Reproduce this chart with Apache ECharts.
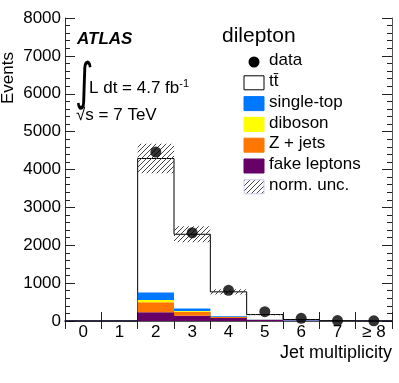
<!DOCTYPE html>
<html>
<head>
<meta charset="utf-8">
<title>Jet multiplicity</title>
<script src="https://cdn.jsdelivr.net/npm/echarts@6/dist/echarts.min.js"></script>
<style>
    html, body { margin: 0; padding: 0; background: #fff; }
    #chart { width: 399px; height: 383px; }
</style>
</head>
<body>
<div id="chart"></div>
<script>
    // bins of the jet multiplicity histogram
    const jetBins = ['0', '1', '2', '3', '4', '5', '6', '7', '≥ 8'];
    const dataCounts = ['-', '-', 4460, 2330, 810, 245, 70, 12, 5];
    // stack, bottom to top
    const fakeLeptons = [0, 0, 230, 140, 80, 25, 6, 1, 0];
    const zJets = [0, 0, 265, 105, 25, 8, 2, 1, 0];
    const diboson = [0, 0, 60, 20, 5, 2, 1, 0, 0];
    const singleTop = [0, 0, 200, 65, 20, 5, 1, 0, 0];
    const ttbar = [0, 0, 3535, 1960, 640, 130, 30, 6, 2];
    const normUnc = [0, 0, 390, 210, 70, 16, 4, 1, 0];
    const yTicks = [0, 1000, 2000, 3000, 4000, 5000, 6000, 7000, 8000];

    const FONT = '"Liberation Sans", Arial, sans-serif';
    const layers = [fakeLeptons, zJets, diboson, singleTop, ttbar];
    const layerColors = ['#660066', '#ff7700', '#ffff00', '#0077ff', '#ffffff'];

    function hatchCanvas() {
        const c = document.createElement('canvas');
        c.width = 5; c.height = 5;
        const g = c.getContext('2d');
        g.strokeStyle = '#444';
        g.lineWidth = 1;
        g.beginPath();
        g.moveTo(0, 5); g.lineTo(5, 0);
        g.moveTo(-1, 1); g.lineTo(1, -1);
        g.moveTo(4, 6); g.lineTo(6, 4);
        g.stroke();
        return c;
    }
    const hatch = {image: hatchCanvas(), repeat: 'repeat'};

    // cumulative stack
    const bases = [];
    let run = jetBins.map(() => 0);
    layers.forEach(function (l) {
        bases.push(run.slice());
        run = run.map((v, i) => v + l[i]);
    });
    const totals = run;

    function rectItem(fill) {
        return function (params, api) {
            const lo = api.value(1), hi = api.value(2);
            if (hi <= lo) return;
            const p0 = api.coord([api.value(0), lo]);
            const p1 = api.coord([api.value(0), hi]);
            const w = api.size([1, 0])[0];
            return {
                type: 'rect',
                shape: {x: p0[0] - w / 2, y: p1[1], width: w, height: p0[1] - p1[1]},
                style: {fill: fill}
            };
        };
    }

    const stackSeries = layers.map(function (l, k) {
        return {
            type: 'custom',
            name: 'layer' + k,
            z: k === 4 ? 2 : 4,
            renderItem: rectItem(layerColors[k]),
            encode: {x: 0, y: [1, 2]},
            data: jetBins.map((c, i) => [i, bases[k][i], bases[k][i] + l[i]]),
            silent: true
        };
    });

    const outlineSeries = {
        type: 'custom',
        z: 3,
        silent: true,
        renderItem: function (params, api) {
            const i = api.value(0);
            const cur = api.value(1), prev = api.value(2);
            const w = api.size([1, 0])[0];
            const pc = api.coord([i, cur]);
            const pp = api.coord([i, prev]);
            const p0 = api.coord([i, 0]);
            const pts = [[pc[0] - w / 2, pp[1]], [pc[0] - w / 2, pc[1]], [pc[0] + w / 2, pc[1]]];
            if (i === jetBins.length - 1) pts.push([pc[0] + w / 2, p0[1]]);
            return {type: 'polyline', shape: {points: pts}, style: {stroke: '#000', lineWidth: 1, fill: null}};
        },
        data: jetBins.map((c, i) => [i, totals[i], i === 0 ? 0 : totals[i - 1]])
    };

    const uncSeries = {
        type: 'custom',
        z: 5,
        silent: true,
        renderItem: rectItem(hatch),
        data: jetBins.map((c, i) => [i, totals[i] - normUnc[i], totals[i] + normUnc[i]])
    };

    const dataSeries = {
        type: 'scatter',
        z: 6,
        symbol: 'circle',
        symbolSize: 11,
        itemStyle: {color: '#000'},
        silent: true,
        data: dataCounts
    };

    const chart = echarts.init(document.getElementById('chart'));
    const legendRows = [
        {label: 'data', kind: 'dot'},
        {label: 'tt\u0304', kind: 'box', fill: '#fff', stroke: '#000'},
        {label: 'single-top', kind: 'box', fill: '#0077ff'},
        {label: 'diboson', kind: 'box', fill: '#ffff00'},
        {label: 'Z + jets', kind: 'box', fill: '#ff7700'},
        {label: 'fake leptons', kind: 'box', fill: '#660066'},
        {label: 'norm. unc.', kind: 'box', fill: hatch, stroke: '#ccccee'}
    ];
    const graphics = [
        {type: 'text', left: 77, top: 31, style: {text: 'ATLAS', font: 'italic bold 17px ' + FONT, fill: '#000'}},
        {type: 'text', x: 75, y: 60, scaleX: 0.7, style: {text: '\u222B', font: '51px "DejaVu Sans"', fill: '#000'}},
        {
            type: 'text', left: 89, top: 78,
            style: {
                text: 'L dt = 4.7 fb{s|-1}',
                font: '17px ' + FONT, fill: '#000',
                rich: {s: {fontSize: 11, fontFamily: FONT, verticalAlign: 'top', padding: [0, 0, 10, 0]}}
            }
        },
        {type: 'text', left: 76, top: 107, style: {text: '\u221As = 7 TeV', font: '17px ' + FONT, fill: '#000'}},
        {type: 'text', left: 222, top: 26, style: {text: 'dilepton', font: '21px ' + FONT, fill: '#000'}},
        {type: 'text', left: 0, top: 52, rotation: Math.PI / 2, style: {text: 'Events', font: '17px ' + FONT, fill: '#000', textAlign: 'right'}},
        {type: 'text', right: 7, top: 344, style: {text: 'Jet multiplicity', font: '18px ' + FONT, fill: '#000'}}
    ];
    legendRows.forEach(function (r, k) {
        const cy = 62 + k * 20.8;
        if (r.kind === 'dot') {
            graphics.push({type: 'circle', shape: {cx: 254, cy: cy, r: 5.5}, style: {fill: '#000'}});
        } else {
            graphics.push({
                type: 'rect', shape: {x: 244, y: cy - 7, width: 20, height: 14},
                style: {fill: r.fill, stroke: r.stroke || r.fill, lineWidth: 1}
            });
        }
        graphics.push({type: 'text', left: 269, top: cy - 10, style: {text: r.label, font: '17px ' + FONT, fill: '#000'}});
    });

    const tickStyle = {color: '#222'};
    const option = {
        animation: false,
        grid: {left: 65, right: 7, top: 18, bottom: 62},
        xAxis: [
            {
                type: 'category', data: jetBins, position: 'bottom',
                axisLine: {show: true, lineStyle: {color: '#22226e', width: 1.5}},
                axisTick: {show: true, inside: true, length: 9, lineStyle: tickStyle},
                axisLabel: {fontSize: 17, fontFamily: FONT, color: '#000', margin: 3, interval: 0},
                splitLine: {show: false}
            },
            {
                type: 'category', data: jetBins, position: 'top',
                axisLine: {show: true, lineStyle: {color: '#555'}},
                axisTick: {show: true, inside: true, length: 8, lineStyle: tickStyle},
                axisLabel: {show: false},
                splitLine: {show: false}
            }
        ],
        yAxis: [
            {
                type: 'value', min: 0, max: 8000, interval: 1000, position: 'left',
                axisLine: {show: true, lineStyle: {color: '#333'}},
                axisTick: {show: true, inside: true, length: 10, lineStyle: tickStyle},
                minorTick: {show: true, splitNumber: 5, length: 5, lineStyle: tickStyle},
                axisLabel: {
                    fontSize: 17, fontFamily: FONT, color: '#000', margin: 4,
                    formatter: v => yTicks.indexOf(v) >= 0 ? String(v) : ''
                },
                splitLine: {show: false}
            },
            {
                type: 'value', min: 0, max: 8000, interval: 1000, position: 'right',
                axisLine: {show: true, lineStyle: {color: '#555'}},
                axisTick: {show: true, inside: true, length: 10, lineStyle: tickStyle},
                minorTick: {show: true, splitNumber: 5, length: 5, lineStyle: tickStyle},
                axisLabel: {show: false},
                splitLine: {show: false}
            }
        ],
        graphic: graphics,
        series: stackSeries.concat([outlineSeries, uncSeries, dataSeries])
    };
    chart.setOption(option);
    window.addEventListener('resize', chart.resize);
</script>
</body>
</html>
